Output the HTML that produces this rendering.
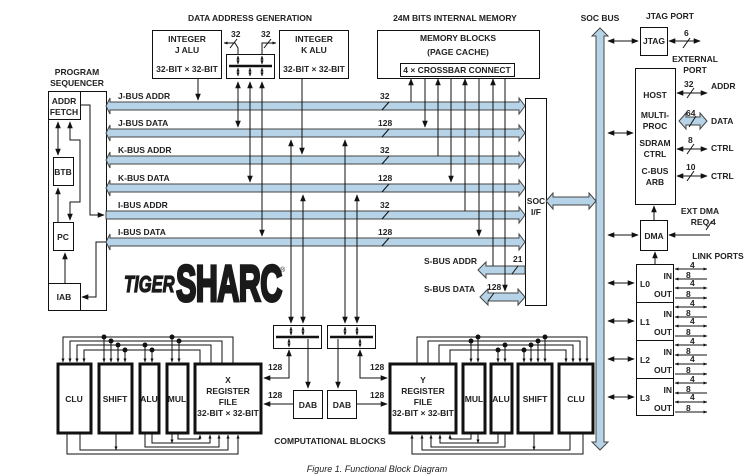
<!DOCTYPE html>
<html><head><meta charset="utf-8"><style>
body{margin:0;background:#fff}
svg{display:block}
text{font-family:"Liberation Sans",sans-serif;font-weight:bold;font-size:8.5px;fill:#222}
.t{text-anchor:middle}
</style></head><body>
<svg width="754" height="475" viewBox="0 0 754 475" xmlns="http://www.w3.org/2000/svg">
<defs>
<marker id="a" viewBox="0 0 10 10" refX="9" refY="5" markerWidth="7" markerHeight="7" orient="auto-start-reverse"><path d="M0,1 L10,5 L0,9 z" fill="#111"/></marker>
<marker id="s" viewBox="0 0 10 10" refX="9" refY="5" markerWidth="4" markerHeight="4" orient="auto-start-reverse"><path d="M0,1 L10,5 L0,9 z" fill="#111"/></marker>
</defs>
<text x="250" y="21" class="t">DATA ADDRESS GENERATION</text>
<text x="455" y="21" class="t">24M BITS INTERNAL MEMORY</text>
<text x="600" y="21" class="t">SOC BUS</text>
<text x="670" y="19" class="t">JTAG PORT</text>
<text x="77" y="75" class="t">PROGRAM</text>
<text x="77" y="86" class="t">SEQUENCER</text>

<g stroke="#111" fill="#fff" stroke-width="1">
<rect x="152.5" y="30.5" width="69" height="48"/>
<rect x="279.5" y="30.5" width="69" height="48"/>
<rect x="226.5" y="54.5" width="48" height="24"/>
<rect x="377.5" y="30.5" width="162" height="48"/>
<rect x="400.5" y="63.5" width="114" height="13"/>
<rect x="48.5" y="91.5" width="58" height="219"/>
<rect x="48.5" y="91.5" width="32" height="28"/>
<rect x="53.5" y="157.5" width="20" height="28"/>
<rect x="53.5" y="222.5" width="20" height="28"/>
<rect x="48.5" y="283.5" width="32" height="27"/>
<rect x="525.5" y="98.5" width="21" height="207"/>
<rect x="640.5" y="27.5" width="27" height="28"/>
<rect x="635.5" y="68.5" width="40" height="136"/>
<rect x="640.5" y="220.5" width="27" height="30"/>
<rect x="636.5" y="264.5" width="37" height="151"/>
<line x1="636" y1="302.5" x2="673" y2="302.5"/>
<line x1="636" y1="340.5" x2="673" y2="340.5"/>
<line x1="636" y1="378.5" x2="673" y2="378.5"/>
<rect x="273.5" y="325.5" width="48" height="23"/>
<rect x="327.5" y="325.5" width="48" height="23"/>
<rect x="293.5" y="390.5" width="29" height="28"/>
<rect x="327.5" y="390.5" width="29" height="28"/>
</g>
<g stroke="#111" stroke-width="2.5">
<line x1="229" y1="66" x2="272" y2="66"/>
<line x1="276" y1="337" x2="319" y2="337"/>
<line x1="330" y1="337" x2="373" y2="337"/>
</g>
<g stroke="#111" stroke-width="1">
<line x1="238" y1="56" x2="238" y2="64" marker-start="url(#s)" marker-end="url(#s)"/>
<line x1="262" y1="56" x2="262" y2="64" marker-start="url(#s)" marker-end="url(#s)"/>
<line x1="238" y1="68" x2="238" y2="76" marker-start="url(#s)" marker-end="url(#s)"/>
<line x1="250" y1="68" x2="250" y2="76" marker-start="url(#s)" marker-end="url(#s)"/>
<line x1="262" y1="68" x2="262" y2="76" marker-start="url(#s)" marker-end="url(#s)"/>
<line x1="291" y1="327" x2="291" y2="335" marker-start="url(#s)" marker-end="url(#s)"/>
<line x1="303" y1="327" x2="303" y2="335" marker-start="url(#s)" marker-end="url(#s)"/>
<line x1="289" y1="339" x2="289" y2="347" marker-start="url(#s)" marker-end="url(#s)"/>
<line x1="345" y1="327" x2="345" y2="335" marker-start="url(#s)" marker-end="url(#s)"/>
<line x1="357" y1="327" x2="357" y2="335" marker-start="url(#s)" marker-end="url(#s)"/>
<line x1="360" y1="339" x2="360" y2="347" marker-start="url(#s)" marker-end="url(#s)"/>
</g>
<g stroke="#111" fill="#fff" stroke-width="3">
<rect x="58" y="364" width="33" height="69"/>
<rect x="99" y="364" width="33" height="69"/>
<rect x="140" y="364" width="19" height="69"/>
<rect x="167" y="364" width="21" height="69"/>
<rect x="195" y="364" width="66" height="69"/>
<rect x="390" y="364" width="66" height="69"/>
<rect x="463" y="364" width="22" height="69"/>
<rect x="491" y="364" width="21" height="69"/>
<rect x="518" y="364" width="34" height="69"/>
<rect x="559" y="364" width="34" height="69"/>
</g>

<text x="187" y="42" class="t">INTEGER</text>
<text x="187" y="53" class="t">J ALU</text>
<text x="187" y="72" class="t">32-BIT × 32-BIT</text>
<text x="314" y="42" class="t">INTEGER</text>
<text x="314" y="53" class="t">K ALU</text>
<text x="314" y="72" class="t">32-BIT × 32-BIT</text>
<text x="458" y="41" class="t">MEMORY BLOCKS</text>
<text x="458" y="55" class="t">(PAGE CACHE)</text>
<text x="457" y="73" class="t">4 × CROSSBAR CONNECT</text>
<text x="64" y="104" class="t">ADDR</text>
<text x="64" y="115" class="t">FETCH</text>
<text x="63" y="175" class="t">BTB</text>
<text x="63" y="240" class="t">PC</text>
<text x="64" y="300" class="t">IAB</text>
<text x="536" y="204" class="t">SOC</text>
<text x="536" y="215" class="t">I/F</text>
<text x="654" y="44" class="t">JTAG</text>
<text x="695" y="62" class="t">EXTERNAL</text>
<text x="695" y="73" class="t">PORT</text>
<text x="655" y="98" class="t">HOST</text>
<text x="655" y="118" class="t">MULTI-</text>
<text x="655" y="129" class="t">PROC</text>
<text x="655" y="146" class="t">SDRAM</text>
<text x="655" y="157" class="t">CTRL</text>
<text x="655" y="174" class="t">C-BUS</text>
<text x="655" y="185" class="t">ARB</text>
<text x="654" y="239" class="t">DMA</text>
<text x="700" y="214" class="t">EXT DMA</text>
<text x="700" y="225" class="t">REQ</text>
<text x="718" y="259" class="t">LINK PORTS</text>
<text x="711" y="89">ADDR</text>
<text x="711" y="124">DATA</text>
<text x="711" y="151">CTRL</text>
<text x="711" y="179">CTRL</text>

<g fill="#b7d3e8" stroke="#444" stroke-width="1">
<path d="M110,102 L519,102 L519,98 L525,106 L519,114 L519,110 L110,110 L110,114 L106,106 L110,98 Z"/>
<path d="M110,129 L519,129 L519,125 L525,133 L519,141 L519,137 L110,137 L110,141 L106,133 L110,125 Z"/>
<path d="M110,156 L519,156 L519,152 L525,160 L519,168 L519,164 L110,164 L110,168 L106,160 L110,152 Z"/>
<path d="M110,184 L519,184 L519,180 L525,188 L519,196 L519,192 L110,192 L110,196 L106,188 L110,180 Z"/>
<path d="M106,211 L519,211 L519,207 L525,215 L519,223 L519,219 L106,219 Z"/>
<path d="M110,238 L519,238 L519,234 L525,242 L519,250 L519,246 L110,246 L110,250 L106,242 L110,234 Z"/>
<path d="M596,36 L592,36 L600,28 L608,36 L604,36 L604,442 L608,442 L600,450 L592,442 L596,442 Z"/>
<path d="M553,197 L589,197 L589,193 L596,201 L589,209 L589,205 L553,205 L553,209 L546,201 L553,193 Z"/>
<path d="M486,266 L525,266 L525,274 L486,274 L486,278 L478,270 L486,262 Z"/>
<path d="M488,293 L518,293 L518,289 L525,297 L518,305 L518,301 L488,301 L488,305 L480,297 L488,289 Z"/>
<path d="M686,117 L700,117 L700,113 L707,121 L700,129 L700,125 L686,125 L686,129 L679,121 L686,113 Z"/>
</g>
<text x="118" y="99">J-BUS ADDR</text>
<text x="118" y="126">J-BUS DATA</text>
<text x="118" y="153">K-BUS ADDR</text>
<text x="118" y="181">K-BUS DATA</text>
<text x="118" y="208">I-BUS ADDR</text>
<text x="118" y="235">I-BUS DATA</text>
<text x="424" y="264">S-BUS ADDR</text>
<text x="424" y="292">S-BUS DATA</text>
<text x="380" y="99">32</text><text x="378" y="126">128</text>
<text x="380" y="153">32</text><text x="378" y="181">128</text>
<text x="380" y="208">32</text><text x="378" y="235">128</text>
<text x="513" y="262">21</text><text x="487" y="290">128</text>
<text x="231" y="37">32</text><text x="261" y="37">32</text>

<g stroke="#111" stroke-width="1">
<line x1="382" y1="110" x2="389" y2="102"/><line x1="382" y1="137" x2="389" y2="129"/>
<line x1="382" y1="164" x2="389" y2="156"/><line x1="382" y1="192" x2="389" y2="184"/>
<line x1="382" y1="219" x2="389" y2="211"/><line x1="382" y1="246" x2="389" y2="238"/>
<line x1="512" y1="274" x2="518" y2="266"/><line x1="488" y1="301" x2="494" y2="293"/>
<line x1="230" y1="48" x2="237" y2="39"/><line x1="264" y1="48" x2="271" y2="39"/>
</g>

<g stroke="#111" fill="none" stroke-width="1">
<line x1="198" y1="78" x2="198" y2="100" marker-end="url(#a)"/>
<line x1="302" y1="78" x2="302" y2="154" marker-end="url(#a)"/>
<line x1="238" y1="82" x2="238" y2="127" marker-start="url(#a)" marker-end="url(#a)"/>
<line x1="250" y1="82" x2="250" y2="182" marker-start="url(#a)" marker-end="url(#a)"/>
<line x1="262" y1="82" x2="262" y2="236" marker-start="url(#a)" marker-end="url(#a)"/>
<polyline points="224,43 235,43 238,48 238,54" marker-start="url(#s)"/>
<polyline points="262,54 262,43 276,43" marker-end="url(#s)"/>
<line x1="291" y1="140" x2="291" y2="323" marker-start="url(#a)" marker-end="url(#a)"/>
<line x1="303" y1="195" x2="303" y2="323" marker-start="url(#a)" marker-end="url(#a)"/>
<line x1="345" y1="140" x2="345" y2="323" marker-start="url(#a)" marker-end="url(#a)"/>
<line x1="357" y1="195" x2="357" y2="323" marker-start="url(#a)" marker-end="url(#a)"/>
<line x1="411" y1="102" x2="411" y2="79" marker-end="url(#a)"/>
<line x1="425" y1="79" x2="425" y2="127" marker-end="url(#a)"/>
<line x1="438" y1="156" x2="438" y2="79" marker-end="url(#a)"/>
<line x1="451" y1="79" x2="451" y2="182" marker-end="url(#a)"/>
<line x1="465" y1="211" x2="465" y2="79" marker-end="url(#a)"/>
<line x1="479" y1="79" x2="479" y2="236" marker-end="url(#a)"/>
<line x1="493" y1="266" x2="493" y2="79" marker-end="url(#a)"/>
<line x1="505" y1="79" x2="505" y2="291" marker-end="url(#a)"/>
<line x1="608" y1="41" x2="638" y2="41" marker-start="url(#a)" marker-end="url(#a)"/>
<line x1="608" y1="133" x2="633" y2="133" marker-start="url(#a)" marker-end="url(#a)"/>
<line x1="608" y1="235" x2="638" y2="235" marker-start="url(#a)" marker-end="url(#a)"/>
<line x1="608" y1="283" x2="634" y2="283" marker-start="url(#a)" marker-end="url(#a)"/>
<line x1="608" y1="321" x2="634" y2="321" marker-start="url(#a)" marker-end="url(#a)"/>
<line x1="608" y1="359" x2="634" y2="359" marker-start="url(#a)" marker-end="url(#a)"/>
<line x1="608" y1="397" x2="634" y2="397" marker-start="url(#a)" marker-end="url(#a)"/>
<line x1="654" y1="220" x2="654" y2="206" marker-end="url(#a)"/>
<line x1="655" y1="264" x2="655" y2="252" marker-end="url(#a)"/>
<line x1="669" y1="41" x2="700" y2="41" marker-start="url(#a)" marker-end="url(#a)"/>
<line x1="677" y1="93" x2="707" y2="93" marker-start="url(#a)" marker-end="url(#a)"/>
<line x1="677" y1="149" x2="707" y2="149" marker-start="url(#a)" marker-end="url(#a)"/>
<line x1="677" y1="176" x2="707" y2="176" marker-start="url(#a)" marker-end="url(#a)"/>
<line x1="669" y1="235" x2="710" y2="235" marker-start="url(#a)"/>
<line x1="58" y1="122" x2="58" y2="155" marker-start="url(#a)" marker-end="url(#a)"/>
<polyline points="70,122 70,140 80,140 80,202 70,202 70,220" marker-start="url(#a)" marker-end="url(#a)"/>
<line x1="58" y1="222" x2="58" y2="188" marker-end="url(#a)"/>
<line x1="65" y1="283" x2="65" y2="253" marker-end="url(#a)"/>
<polyline points="80,105 90,105 90,215 104,215" marker-end="url(#a)"/>
<polyline points="106,242 96,242 96,297 82,297" marker-end="url(#a)"/>
<polyline points="264,378 289,378 289,350" marker-start="url(#a)" marker-end="url(#a)"/>
<line x1="308" y1="339" x2="308" y2="388" marker-end="url(#a)"/>
<line x1="338" y1="339" x2="338" y2="388" marker-end="url(#a)"/>
<polyline points="387,378 360,378 360,350" marker-start="url(#a)" marker-end="url(#a)"/>
<line x1="293" y1="404" x2="264" y2="404" marker-end="url(#a)"/>
<line x1="356" y1="404" x2="387" y2="404" marker-end="url(#a)"/>
<polyline points="233,364 233,337 63,337 63,362" marker-end="url(#s)"/>
<polyline points="222,364 222,341 70,341 70,362" marker-end="url(#s)"/>
<polyline points="211,364 211,345 77,345 77,362" marker-end="url(#s)"/>
<polyline points="200,364 200,350 84,350 84,362" marker-end="url(#s)"/>
<line x1="104" y1="337" x2="104" y2="362" marker-end="url(#s)"/>
<line x1="111" y1="341" x2="111" y2="362" marker-end="url(#s)"/>
<line x1="118" y1="345" x2="118" y2="362" marker-end="url(#s)"/>
<line x1="125" y1="350" x2="125" y2="362" marker-end="url(#s)"/>
<line x1="145" y1="345" x2="145" y2="362" marker-end="url(#s)"/>
<line x1="152" y1="350" x2="152" y2="362" marker-end="url(#s)"/>
<line x1="172" y1="337" x2="172" y2="362" marker-end="url(#s)"/>
<line x1="179" y1="341" x2="179" y2="362" marker-end="url(#s)"/>
<polyline points="67,433 67,454 238,454 238,435" marker-end="url(#s)"/>
<polyline points="80,433 80,450 228,450 228,435" marker-end="url(#s)"/>
<line x1="116" y1="433" x2="116" y2="450" marker-end="url(#s)"/>
<polyline points="145,433 145,447 219,447 219,435" marker-end="url(#s)"/>
<polyline points="152,433 152,443 210,443 210,435" marker-end="url(#s)"/>
<line x1="172" y1="433" x2="172" y2="443" marker-end="url(#s)"/>
<polyline points="178,433 178,439 200,439 200,435" marker-end="url(#s)"/>
<polyline points="417,364 417,337 587,337 587,362" marker-end="url(#s)"/>
<polyline points="428,364 428,341 580,341 580,362" marker-end="url(#s)"/>
<polyline points="439,364 439,345 573,345 573,362" marker-end="url(#s)"/>
<polyline points="450,364 450,350 566,350 566,362" marker-end="url(#s)"/>
<line x1="524" y1="350" x2="524" y2="362" marker-end="url(#s)"/>
<line x1="531" y1="345" x2="531" y2="362" marker-end="url(#s)"/>
<line x1="538" y1="341" x2="538" y2="362" marker-end="url(#s)"/>
<line x1="545" y1="337" x2="545" y2="362" marker-end="url(#s)"/>
<line x1="498" y1="350" x2="498" y2="362" marker-end="url(#s)"/>
<line x1="505" y1="345" x2="505" y2="362" marker-end="url(#s)"/>
<line x1="471" y1="341" x2="471" y2="362" marker-end="url(#s)"/>
<line x1="478" y1="337" x2="478" y2="362" marker-end="url(#s)"/>
<polyline points="583,433 583,454 412,454 412,435" marker-end="url(#s)"/>
<polyline points="570,433 570,450 422,450 422,435" marker-end="url(#s)"/>
<line x1="534" y1="433" x2="534" y2="450" marker-end="url(#s)"/>
<polyline points="505,433 505,447 431,447 431,435" marker-end="url(#s)"/>
<polyline points="498,433 498,443 440,443 440,435" marker-end="url(#s)"/>
<line x1="478" y1="433" x2="478" y2="443" marker-end="url(#s)"/>
<polyline points="471,433 471,439 450,439 450,435" marker-end="url(#s)"/>
</g>
<g fill="#111">
<circle cx="104" cy="337" r="2.5"/><circle cx="111" cy="341" r="2.5"/><circle cx="118" cy="345" r="2.5"/><circle cx="125" cy="350" r="2.5"/>
<circle cx="145" cy="345" r="2.5"/><circle cx="152" cy="350" r="2.5"/><circle cx="172" cy="337" r="2.5"/><circle cx="179" cy="341" r="2.5"/>
<circle cx="524" cy="350" r="2.5"/><circle cx="531" cy="345" r="2.5"/><circle cx="538" cy="341" r="2.5"/><circle cx="545" cy="337" r="2.5"/>
<circle cx="498" cy="350" r="2.5"/><circle cx="505" cy="345" r="2.5"/><circle cx="471" cy="341" r="2.5"/><circle cx="478" cy="337" r="2.5"/>
</g>
<g stroke="#111" stroke-width="1">
<line x1="675" y1="269" x2="707" y2="269" marker-start="url(#s)" marker-end="url(#s)"/><line x1="675" y1="279" x2="707" y2="279" marker-start="url(#s)"/><line x1="675" y1="288" x2="707" y2="288" marker-start="url(#s)" marker-end="url(#s)"/><line x1="675" y1="298" x2="707" y2="298" marker-end="url(#s)"/>
<line x1="675" y1="307" x2="707" y2="307" marker-start="url(#s)" marker-end="url(#s)"/><line x1="675" y1="317" x2="707" y2="317" marker-start="url(#s)"/><line x1="675" y1="326" x2="707" y2="326" marker-start="url(#s)" marker-end="url(#s)"/><line x1="675" y1="336" x2="707" y2="336" marker-end="url(#s)"/>
<line x1="675" y1="345" x2="707" y2="345" marker-start="url(#s)" marker-end="url(#s)"/><line x1="675" y1="355" x2="707" y2="355" marker-start="url(#s)"/><line x1="675" y1="364" x2="707" y2="364" marker-start="url(#s)" marker-end="url(#s)"/><line x1="675" y1="374" x2="707" y2="374" marker-end="url(#s)"/>
<line x1="675" y1="383" x2="707" y2="383" marker-start="url(#s)" marker-end="url(#s)"/><line x1="675" y1="393" x2="707" y2="393" marker-start="url(#s)"/><line x1="675" y1="402" x2="707" y2="402" marker-start="url(#s)" marker-end="url(#s)"/><line x1="675" y1="412" x2="707" y2="412" marker-end="url(#s)"/>
<line x1="683" y1="48" x2="690" y2="38"/><line x1="687" y1="98" x2="694" y2="88"/><line x1="689" y1="127" x2="696" y2="116"/>
<line x1="687" y1="154" x2="694" y2="144"/><line x1="687" y1="181" x2="694" y2="171"/><line x1="706" y1="230" x2="712" y2="221"/>
</g>
<g>
<text x="684" y="36">6</text><text x="684" y="87">32</text><text x="686" y="116">64</text><text x="688" y="143">8</text><text x="686" y="170">10</text><text x="711" y="225">4</text>
</g>
<g style="font-size:7px">
<text x="690" y="268">4</text><text x="690" y="286">4</text><text x="690" y="306">4</text><text x="690" y="324">4</text><text x="690" y="344">4</text><text x="690" y="362">4</text><text x="690" y="382">4</text><text x="690" y="400">4</text>
<text x="686" y="278">8</text><text x="686" y="297">8</text><text x="686" y="316">8</text><text x="686" y="335">8</text><text x="686" y="354">8</text><text x="686" y="373">8</text><text x="686" y="392">8</text><text x="686" y="411">8</text>
</g>
<text x="640" y="287">L0</text><text x="640" y="325">L1</text><text x="640" y="363">L2</text><text x="640" y="401">L3</text>
<text x="672" y="279" text-anchor="end">IN</text><text x="672" y="297" text-anchor="end">OUT</text>
<text x="672" y="317" text-anchor="end">IN</text><text x="672" y="335" text-anchor="end">OUT</text>
<text x="672" y="355" text-anchor="end">IN</text><text x="672" y="373" text-anchor="end">OUT</text>
<text x="672" y="393" text-anchor="end">IN</text><text x="672" y="411" text-anchor="end">OUT</text>

<text x="74" y="402" class="t">CLU</text>
<text x="115" y="402" class="t">SHIFT</text>
<text x="149" y="402" class="t">ALU</text>
<text x="177" y="402" class="t">MUL</text>
<text x="228" y="383" class="t">X</text>
<text x="228" y="394" class="t">REGISTER</text>
<text x="228" y="405" class="t">FILE</text>
<text x="228" y="416" class="t">32-BIT × 32-BIT</text>
<text x="423" y="383" class="t">Y</text>
<text x="423" y="394" class="t">REGISTER</text>
<text x="423" y="405" class="t">FILE</text>
<text x="423" y="416" class="t">32-BIT × 32-BIT</text>
<text x="474" y="402" class="t">MUL</text>
<text x="501" y="402" class="t">ALU</text>
<text x="535" y="402" class="t">SHIFT</text>
<text x="576" y="402" class="t">CLU</text>
<text x="308" y="408" class="t">DAB</text>
<text x="342" y="408" class="t">DAB</text>
<text x="268" y="370">128</text><text x="268" y="398">128</text>
<text x="370" y="370">128</text><text x="370" y="398">128</text>
<text x="330" y="444" class="t">COMPUTATIONAL BLOCKS</text>
<text transform="translate(124,292) scale(0.72,1)" style="font-size:23px;font-style:italic;font-weight:900;fill:#1a1a1a;stroke:#1a1a1a;stroke-width:1.2">TIGER</text>
<text transform="translate(176,301) scale(0.6,1)" style="font-size:51px;font-weight:900;fill:#1a1a1a;stroke:#1a1a1a;stroke-width:3;letter-spacing:-1px">SHARC</text>
<text x="280" y="272" style="font-size:7px;font-weight:normal">®</text>
<text x="377" y="472" class="t" style="font-weight:normal;font-style:italic;font-size:9px">Figure 1.  Functional Block Diagram</text>
</svg>
</body></html>
